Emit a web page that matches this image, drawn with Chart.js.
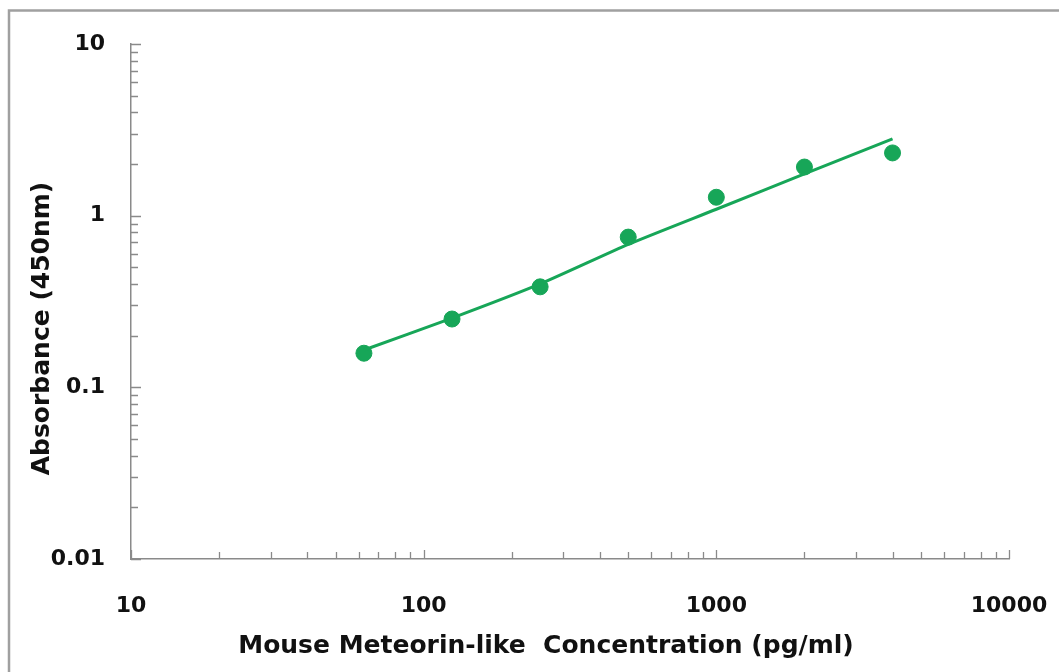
<!DOCTYPE html>
<html>
<head>
<meta charset="utf-8">
<script src="https://cdn.jsdelivr.net/npm/chart.js@4.4.0/dist/chart.umd.min.js"></script>
<style>
  html, body { margin: 0; padding: 0; background: #fff; }
  #wrap { position: relative; width: 1059px; height: 672px; }
  canvas { display: block; }
</style>
</head>
<body>
<div id="wrap"><canvas id="c" width="1059" height="672"></canvas></div>
<script>
// ---- data ----
const concentrations = [62.5, 125, 250, 500, 1000, 2000, 4000];
const absorbance = [0.158, 0.25, 0.385, 0.75, 1.28, 1.92, 2.32];
const fitX = [62.5, 125, 250, 500, 1000, 2000, 4000];
const fitY = [0.165, 0.253, 0.40, 0.68, 1.09, 1.75, 2.80];
const xTickLabels = ['10', '100', '1000', '10000'];
const yTickLabels = ['0.01', '0.1', '1', '10'];
const xTitle = 'Mouse Meteorin-like  Concentration (pg/ml)';
const yTitle = 'Absorbance (450nm)';

function logTicks(labels) {
  const majors = labels.map(Number);
  const out = [];
  for (let i = 0; i < majors.length; i++) {
    out.push(majors[i]);
    if (i < majors.length - 1) {
      for (let k = 2; k <= 9; k++) out.push(+(majors[i] * k).toPrecision(6));
    }
  }
  return out;
}
const xTickValues = logTicks(xTickLabels);
const yTickValues = logTicks(yTickLabels);

const GREEN = '#17a658';
const AXIS = '#8a8a8a';
const FONT = 'DejaVu Sans';

function shiftTitle(scale, dx, dy) {
  if (scale._titleShifted) return;
  const orig = scale.drawTitle;
  scale.drawTitle = function () {
    const ctx = this.ctx;
    ctx.save();
    ctx.translate(dx, dy);
    orig.apply(this, arguments);
    ctx.restore();
  };
  scale._titleShifted = true;
}

const frame = {
  id: 'frame',
  afterLayout(chart) {
    shiftTitle(chart.scales.x, -24, 0);
    shiftTitle(chart.scales.y, 0, 27);
  },
  beforeDraw(chart) {
    const ctx = chart.ctx;
    ctx.save();
    ctx.fillStyle = '#fff';
    ctx.fillRect(0, 0, chart.width, chart.height);
    ctx.strokeStyle = '#a0a0a0';
    ctx.lineWidth = 2.5;
    ctx.strokeRect(9, 10.5, chart.width + 20, chart.height + 20);
    ctx.restore();
  },
  afterDraw(chart) {
    const ctx = chart.ctx;
    const xs = chart.scales.x, ys = chart.scales.y;
    const a = chart.chartArea;
    ctx.save();
    ctx.strokeStyle = AXIS;
    ctx.lineWidth = 1.3;
    ctx.beginPath();
    xTickValues.forEach(v => {
      const px = Math.round(xs.getPixelForValue(v)) + 0.5;
      const major = xTickLabels.includes(String(v));
      const len = major ? 9 : 7;
      ctx.moveTo(px, a.bottom);
      ctx.lineTo(px, a.bottom - len);
    });
    yTickValues.forEach(v => {
      const py = Math.round(ys.getPixelForValue(v)) + 0.5;
      const major = yTickLabels.includes(String(v));
      const len = major ? 10 : 7;
      ctx.moveTo(a.left, py);
      ctx.lineTo(a.left + len, py);
    });
    ctx.stroke();
    ctx.restore();
  }
};

new Chart(document.getElementById('c'), {
  type: 'scatter',
  data: {
    datasets: [
      {
        label: 'fit',
        data: fitX.map((x, i) => ({ x, y: fitY[i] })),
        showLine: true,
        borderColor: GREEN,
        borderWidth: 3,
        pointRadius: 0,
        tension: 0.2,
        fill: false
      },
      {
        label: 'standard',
        data: concentrations.map((x, i) => ({ x, y: absorbance[i] })),
        backgroundColor: GREEN,
        borderColor: GREEN,
        pointRadius: 8,
        pointHoverRadius: 8,
        showLine: false
      }
    ]
  },
  options: {
    responsive: false,
    animation: false,
    devicePixelRatio: 1,
    layout: { padding: { left: 0, right: 50, top: 44, bottom: 0 } },
    plugins: { legend: { display: false }, tooltip: { enabled: false } },
    scales: {
      x: {
        type: 'logarithmic',
        min: 10, max: 10000,
        afterBuildTicks(s) { s.ticks = xTickValues.map(v => ({ value: v })); },
        afterFit(s) { s.height = 113; s.paddingLeft = 0; s.paddingRight = 0; },
        grid: { display: true, drawOnChartArea: false, drawTicks: false },
        border: { display: true, color: AXIS, width: 1.5 },
        ticks: {
          autoSkip: false, maxRotation: 0, minRotation: 0,
          padding: 34,
          color: '#111',
          font: { family: FONT, size: 22, weight: 'bold' },
          callback: (v) => xTickLabels.includes(String(v)) ? String(v) : ''
        },
        title: {
          display: true, text: xTitle, color: '#111',
          font: { family: FONT, size: 25, weight: 'bold' },
          padding: { top: 0, bottom: 11 }
        }
      },
      y: {
        type: 'logarithmic',
        min: 0.01, max: 10,
        afterBuildTicks(s) { s.ticks = yTickValues.map(v => ({ value: v })); },
        afterFit(s) { s.width = 131; s.paddingTop = 0; s.paddingBottom = 0; },
        grid: { display: true, drawOnChartArea: false, drawTicks: false },
        border: { display: true, color: AXIS, width: 1.5 },
        ticks: {
          autoSkip: false,
          padding: 26,
          color: '#111',
          font: { family: FONT, size: 22, weight: 'bold' },
          callback: (v) => yTickLabels.includes(String(v)) ? String(v) : ''
        },
        title: {
          display: true, text: yTitle, color: '#111',
          font: { family: FONT, size: 25, weight: 'bold' },
          padding: { top: 27, bottom: 0 }
        }
      }
    }
  },
  plugins: [frame]
});
</script>
</body>
</html>
